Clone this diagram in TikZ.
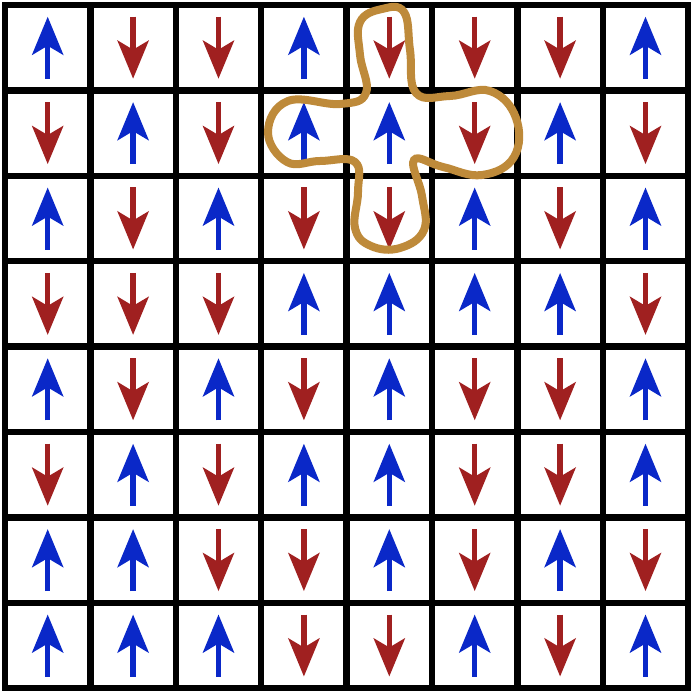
\documentclass[tikz,border=0pt]{standalone}
\usepackage{xcolor}
\usepackage{tikz}
\usetikzlibrary{arrows.meta}

\definecolor{spinblue}{RGB}{10,40,200}
\definecolor{spinred}{RGB}{160,32,32}
\definecolor{loopgold}{RGB}{190,138,58}

\begin{document}
\begin{tikzpicture}[
    x=0.01cm, y=-0.01cm,
    gridline/.style={black, line width=0.065cm, line cap=rect},
    spin/.style={line width=0.055cm, -{Stealth[length=0.38cm, width=0.31cm, inset=0.09cm]}},
    spinup/.style={spin, spinblue},
    spindown/.style={spin, spinred},
    cluster/.style={loopgold, line width=0.08cm}
]
\useasboundingbox (0,0) rectangle (691,691);

% lattice
\foreach \i in {0,...,8} {
    \draw[gridline] ({5+85.4*\i},5) -- ({5+85.4*\i},688);
    \draw[gridline] (5,{5+85.4*\i}) -- (688,{5+85.4*\i});
}

% spins, 1 = up, 0 = down
\foreach \row [count=\r] in {{1,0,0,1,0,0,0,1},{0,1,0,1,1,0,1,0},{1,0,1,0,0,1,0,1},{0,0,0,1,1,1,1,0},
                             {1,0,1,0,1,0,0,1},{0,1,0,1,1,0,0,1},{1,1,0,0,1,0,1,0},{1,1,1,0,0,1,0,1}} {
    \foreach \s [count=\c] in \row {
        \pgfmathsetmacro{\cx}{5+85.4*(\c-0.5)}
        \pgfmathsetmacro{\cy}{5+85.4*(\r-0.5)}
        \ifnum\s=1
            \draw[spinup] (\cx,{\cy+31}) -- (\cx,{\cy-31});
        \else
            \draw[spindown] (\cx,{\cy-31}) -- (\cx,{\cy+31});
        \fi
    }
}

% cluster around the central spin
\draw[cluster] plot[smooth cycle, tension=0.7] coordinates {
    (360,55) (360,22) (382,9) (404,12) (410,50) (416,93)
    (450,96) (490,91) (516,118) (514,157) (482,175) (443,167) (414,160)
    (422,196) (424,230) (400,248) (371,246) (355,228) (358,192) (355,162)
    (320,161) (287,162) (268,132) (288,101) (340,104) (366,93)};

\end{tikzpicture}
\end{document}
